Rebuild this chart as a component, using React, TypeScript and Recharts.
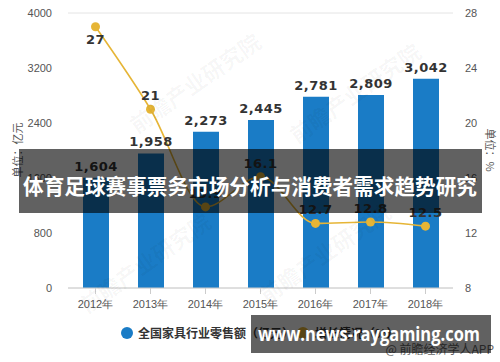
import React from "react";
import { ComposedChart, Bar, Line, XAxis, YAxis, CartesianGrid, LabelList } from "recharts";

const years = ["2012年", "2013年", "2014年", "2015年", "2016年", "2017年", "2018年"];
const retailSales = [1604, 1958, 2273, 2445, 2781, 2809, 3042];
const growthRate = [27, 21, 13.9, 16.1, 12.7, 12.8, 12.5];
const leftTicks = [0, 800, 1600, 2400, 3200, 4000];
const rightTicks = [8, 12, 16, 20, 24, 28];

const data = years.map((y, i) => ({ year: y, sales: retailSales[i], growth: growthRate[i] }));

const BLUE = "#1a7cc6";
const GOLD = "#e6b536";
const TICK_FONT = "'Liberation Sans', Arial, sans-serif";

const fmt = (v: number) => v.toLocaleString("en-US");

const BarLabel = (props: any) => {
  const { x, y, width, value } = props;
  return (
    <text x={x + width / 2} y={y - 7} textAnchor="middle" fill="#333" fontSize={13} fontWeight="bold"
      fontFamily="'DejaVu Sans', sans-serif" letterSpacing={0.5}>
      {fmt(value)}
    </text>
  );
};

const LineLabel = (props: any) => {
  const { x, y, value, index } = props;
  const below = index === 0;
  return (
    <text x={x} y={below ? y + 17 : y - 9} textAnchor="middle" fill="#333" fontSize={13} fontWeight="bold"
      fontFamily="'DejaVu Sans', sans-serif" letterSpacing={0.5}>
      {value}
    </text>
  );
};

const watermarks = [
  { x: 200, y: 90 }, { x: 360, y: 100 }, { x: 330, y: 260 }, { x: 150, y: 270 },
];

export default function App() {
  return (
    <div style={{ position: "absolute", left: 0, top: 0, width: 500, height: 362, background: "#fff", overflow: "hidden" }}>
      <ComposedChart width={500} height={362} data={data} margin={{ top: 13, right: 0, left: 0, bottom: 44 }}>
        <CartesianGrid vertical={false} stroke="#e4e4e4" />
        <XAxis dataKey="year" height={30} tickLine={{ stroke: "#ccc" }} axisLine={{ stroke: "#ccc" }}
          tick={{ fill: "#555", fontSize: 11, fontFamily: TICK_FONT }} tickMargin={6} interval={0} />
        <YAxis yAxisId="left" width={68} domain={[0, 4000]} ticks={leftTicks} axisLine={false} tickLine={false}
          tick={{ fill: "#555", fontSize: 11, fontFamily: TICK_FONT }} tickMargin={10} />
        <YAxis yAxisId="right" orientation="right" width={47} domain={[8, 28]} ticks={rightTicks} axisLine={false}
          tickLine={false} tick={{ fill: "#555", fontSize: 11, fontFamily: TICK_FONT }} tickMargin={6} />
        <Bar yAxisId="left" dataKey="sales" fill={BLUE} barSize={26} isAnimationActive={false}>
          <LabelList dataKey="sales" content={BarLabel} />
        </Bar>
        <Line yAxisId="right" type="monotone" dataKey="growth" stroke={GOLD} strokeWidth={1.6}
          dot={{ r: 4.5, fill: GOLD, stroke: GOLD, strokeWidth: 0 }} isAnimationActive={false}>
          <LabelList dataKey="growth" content={LineLabel} />
        </Line>
      </ComposedChart>

      <svg width={500} height={362} style={{ position: "absolute", left: 0, top: 0, pointerEvents: "none" }}>
        {watermarks.map((w, i) => (
          <text key={i} x={w.x} y={w.y} transform={`rotate(-35 ${w.x} ${w.y})`} fill="#000" fillOpacity={0.04}
            fontSize={22} fontWeight="bold" fontFamily="'Noto Sans CJK SC', sans-serif" textAnchor="middle">
            前瞻产业研究院
          </text>
        ))}
        <text x={22} y={150} transform="rotate(-90 22 150)" textAnchor="middle" fill="#555" fontSize={11}
          fontFamily="'Noto Sans CJK SC', sans-serif">单位：亿元</text>
        <text x={486} y={150} transform="rotate(90 486 150)" textAnchor="middle" fill="#555" fontSize={11}
          fontFamily="'Noto Sans CJK SC', sans-serif">单位：%</text>

        <circle cx={127} cy={333} r={6} fill={BLUE} />
        <text x={138} y={337.5} fill="#333" fontSize={12} fontWeight="bold" fontFamily="'Noto Sans CJK SC', sans-serif">
          全国家具行业零售额（亿元）
        </text>
        <circle cx={303} cy={333} r={6} fill={GOLD} />
        <text x={315} y={337.5} fill="#333" fontSize={12} fontWeight="bold" fontFamily="'Noto Sans CJK SC', sans-serif">
          增长情况（%）
        </text>
        <text x={494} y={354} textAnchor="end" fill="#666" fontSize={12} fontFamily="'Noto Sans CJK SC', sans-serif">
          @ 前瞻经济学人APP
        </text>

        <rect x={19} y={149} width={463} height={64} fill="#000" fillOpacity={0.62} />
        <text x={23} y={194} textLength={454} lengthAdjust="spacingAndGlyphs" fill="#fff" fontSize={21}
          fontWeight="bold" fontFamily="'Noto Sans CJK SC', sans-serif">
          体育足球赛事票务市场分析与消费者需求趋势研究
        </text>

        <rect x={251} y={315} width={240} height={38} fill="#000" fillOpacity={0.62} />
        <text x={258} y={341} textLength={222} lengthAdjust="spacingAndGlyphs" fill="#fff" fontSize={20}
          fontWeight="bold" fontFamily="'Open Sans', 'DejaVu Sans', sans-serif">
          www.news-raygaming.com
        </text>
      </svg>
    </div>
  );
}
